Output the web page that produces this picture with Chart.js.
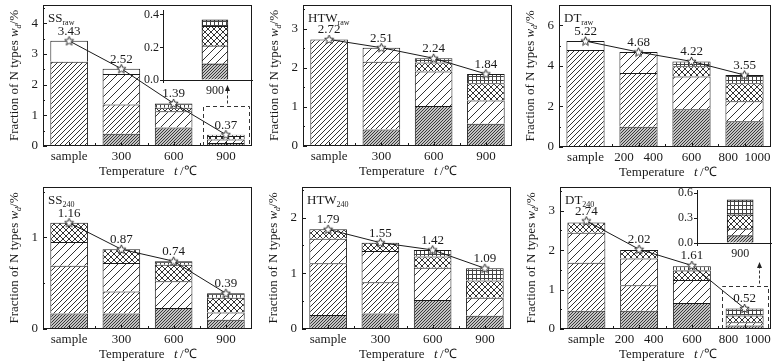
<!DOCTYPE html>
<html>
<head>
<meta charset="utf-8">
<script src="https://cdn.jsdelivr.net/npm/chart.js@4.4.1/dist/chart.umd.min.js"></script>
<style>
  body { margin: 0; background: #fff; }
  #wrap { position: relative; width: 781px; height: 364px; overflow: hidden; }
  #wrap canvas { position: absolute; }
</style>
</head>
<body>
<div id="wrap">
  <canvas id="ssRaw" width="260" height="182" style="left:0;top:0"></canvas>
  <canvas id="htwRaw" width="260" height="182" style="left:260px;top:0"></canvas>
  <canvas id="dtRaw" width="261" height="182" style="left:520px;top:0"></canvas>
  <canvas id="ss240" width="260" height="182" style="left:0;top:182px"></canvas>
  <canvas id="htw240" width="260" height="182" style="left:260px;top:182px"></canvas>
  <canvas id="dt240" width="261" height="182" style="left:520px;top:182px"></canvas>
  <canvas id="ssRawIn" width="126" height="95" style="left:130px;top:5px"></canvas>
  <canvas id="dt240In" width="111" height="76" style="left:662px;top:185px"></canvas>
</div>
<script>
const FONT = 'Liberation Serif';
const INK = '#1a1a1a';

const tempLabels = ['sample', '300', '600', '900'];
const tempLabelsDT = ['sample', '200   400', '600', '800  1000'];
const none = [0, 0, 0, 0];

// segment sizes, bottom -> top: dense, hatch, wide, blank, cross, grid
const ssRawTotal = [3.43, 2.52, 1.39, 0.37];
const ssRawDense = [0, 0.40, 0.60, 0.10];
const ssRawHatch = [2.75, 0.95, 0, 0];
const ssRawWide = [0, 1.00, 0.53, 0.11];
const ssRawBlank = [0.68, 0.17, 0, 0];
const ssRawCross = [0, 0, 0.12, 0.12];
const ssRawGrid = [0, 0, 0.14, 0.04];

const htwRawTotal = [2.72, 2.51, 2.24, 1.84];
const htwRawDense = [0, 0.42, 1.02, 0.57];
const htwRawHatch = [2.72, 1.73, 0, 0];
const htwRawWide = [0, 0.36, 0.88, 0.59];
const htwRawCross = [0, 0, 0.23, 0.44];
const htwRawGrid = [0, 0, 0.11, 0.24];

const dtRawTotal = [5.22, 4.68, 4.22, 3.55];
const dtRawDense = [0, 1.00, 1.86, 1.27];
const dtRawHatch = [4.78, 2.65, 0, 0];
const dtRawWide = [0, 1.03, 1.62, 0.99];
const dtRawBlank = [0.44, 0, 0, 0];
const dtRawCross = [0, 0, 0.50, 0.88];
const dtRawGrid = [0, 0, 0.24, 0.41];

const ss240Total = [1.16, 0.87, 0.74, 0.39];
const ss240Dense = [0.17, 0.17, 0.23, 0.10];
const ss240Hatch = [0.52, 0.24, 0, 0];
const ss240Wide = [0.26, 0.31, 0.29, 0.08];
const ss240Cross = [0.21, 0.15, 0.18, 0.16];
const ss240Grid = [0, 0, 0.04, 0.05];

const htw240Total = [1.79, 1.55, 1.42, 1.09];
const htw240Dense = [0.25, 0.28, 0.52, 0.24];
const htw240Hatch = [0.93, 0.56, 0, 0];
const htw240Wide = [0.44, 0.56, 0.58, 0.32];
const htw240Cross = [0.17, 0.15, 0.20, 0.31];
const htw240Grid = [0, 0, 0.12, 0.22];

const dt240Total = [2.74, 2.02, 1.61, 0.52];
const dt240Dense = [0.46, 0.46, 0.66, 0.09];
const dt240Hatch = [1.22, 0.65, 0, 0];
const dt240Wide = [0.76, 0.68, 0.58, 0.08];
const dt240Cross = [0.26, 0.21, 0.24, 0.17];
const dt240Grid = [0, 0, 0.11, 0.18];

// hatch fills
function tile(size, draw) {
  const c = document.createElement('canvas');
  c.width = c.height = size;
  const g = c.getContext('2d');
  draw(g, size);
  return g.createPattern(c, 'repeat');
}
function diag(g, s) {
  g.moveTo(0, s); g.lineTo(s, 0);
  g.moveTo(-1, 1); g.lineTo(1, -1);
  g.moveTo(s - 1, s + 1); g.lineTo(s + 1, s - 1);
}
function diag2(g, s) {
  g.moveTo(0, 0); g.lineTo(s, s);
  g.moveTo(-1, s - 1); g.lineTo(1, s + 1);
  g.moveTo(s - 1, -1); g.lineTo(s + 1, 1);
}
const fills = [
  tile(3, (g, s) => { g.fillStyle = '#c4c4c4'; g.fillRect(0, 0, s, s); g.strokeStyle = '#3a3a3a'; g.lineWidth = 1; g.beginPath(); diag(g, s); g.stroke(); }),
  tile(5, (g, s) => { g.fillStyle = '#fff'; g.fillRect(0, 0, s, s); g.strokeStyle = '#333'; g.lineWidth = 1; g.beginPath(); diag(g, s); g.stroke(); }),
  tile(8, (g, s) => { g.fillStyle = '#fff'; g.fillRect(0, 0, s, s); g.strokeStyle = '#333'; g.lineWidth = 1; g.beginPath(); diag(g, s); g.stroke(); }),
  '#ffffff',
  tile(6, (g, s) => { g.fillStyle = '#fff'; g.fillRect(0, 0, s, s); g.strokeStyle = '#333'; g.lineWidth = 1; g.beginPath(); diag(g, s); diag2(g, s); g.stroke(); }),
  tile(4, (g, s) => { g.fillStyle = '#fff'; g.fillRect(0, 0, s, s); g.strokeStyle = '#444'; g.lineWidth = 1; g.beginPath(); g.moveTo(0, 0.5); g.lineTo(s, 0.5); g.moveTo(0.5, 0); g.lineTo(0.5, s); g.stroke(); }),
];
const layerNames = ['dense', 'hatch', 'wide', 'blank', 'cross', 'grid'];

function starImg() {
  const c = document.createElement('canvas');
  c.width = c.height = 11;
  const g = c.getContext('2d');
  g.beginPath();
  for (let i = 0; i < 10; i++) {
    const r = i % 2 ? 2.1 : 4.8;
    const t = -Math.PI / 2 + i * Math.PI / 5;
    g.lineTo(5.5 + r * Math.cos(t), 5.8 + r * Math.sin(t));
  }
  g.closePath();
  g.fillStyle = '#fff'; g.fill();
  g.strokeStyle = '#222'; g.lineWidth = 0.9; g.stroke();
  return c;
}
const star = starImg();

function deco(p) {
  return {
    id: 'deco',
    afterDraw(chart) {
      const { ctx, chartArea: a, scales: { x, y } } = chart;
      ctx.save();
      ctx.strokeStyle = INK;
      ctx.fillStyle = INK;
      ctx.lineWidth = 1;
      ctx.strokeRect(a.left + 0.5, a.top + 0.5, a.right - a.left - 1, a.bottom - a.top - 1);

      // inward ticks
      ctx.beginPath();
      const st = p.step;
      for (let v = 0; v <= p.yMax + 1e-9; v += st / 2) {
        const py = Math.round(y.getPixelForValue(v)) + 0.5;
        const major = Math.abs(v / st - Math.round(v / st)) < 1e-6;
        ctx.moveTo(a.left, py); ctx.lineTo(a.left + (major ? 4 : 2), py);
      }
      const n = p.labels.length;
      for (let i = 0; i < n; i++) {
        const px = Math.round(x.getPixelForValue(i)) + 0.5;
        ctx.moveTo(px, a.bottom); ctx.lineTo(px, a.bottom - 4);
        if (i > 0) {
          const mx = Math.round((x.getPixelForValue(i - 1) + x.getPixelForValue(i)) / 2) + 0.5;
          ctx.moveTo(mx, a.bottom); ctx.lineTo(mx, a.bottom - 3);
        }
      }
      ctx.stroke();

      // value labels over the stars
      const meta = chart.getDatasetMeta(chart.data.datasets.length - 1);
      ctx.font = `13px ${FONT}`;
      ctx.textAlign = 'center';
      ctx.textBaseline = 'alphabetic';
      meta.data.forEach((pt, i) => ctx.fillText(p.total[i].toFixed(2), pt.x, pt.y - 6));

      // panel name
      ctx.textAlign = 'left';
      ctx.font = `13px ${FONT}`;
      ctx.fillText(p.name, a.left + 5, a.top + 17);
      const nw = ctx.measureText(p.name).width;
      ctx.font = `8px ${FONT}`;
      ctx.fillText(p.sub, a.left + 5 + nw, a.top + 20);

      // x title
      const by = a.bottom + 29;
      ctx.font = `13px ${FONT}`;
      ctx.fillText('Temperature', 99, by);
      ctx.font = `italic 13px ${FONT}`;
      ctx.fillText('t', 174, by);
      ctx.font = `13px ${FONT}`;
      ctx.fillText('/\u2103', 180, by);

      // y title
      ctx.save();
      ctx.translate(p.yW - 25, (a.top + a.bottom) / 2);
      ctx.rotate(-Math.PI / 2);
      const parts = [
        ['Fraction of N types ', `13px ${FONT}`, 0],
        ['w', `italic 13px ${FONT}`, 0],
        ['d', `italic 8px ${FONT}`, 3],
        ['/%', `13px ${FONT}`, 0],
      ];
      let tw = 0;
      parts.forEach(q => { ctx.font = q[1]; tw += ctx.measureText(q[0]).width; });
      let cx = -tw / 2;
      parts.forEach(q => { ctx.font = q[1]; ctx.fillText(q[0], cx, q[2]); cx += ctx.measureText(q[0]).width; });
      ctx.restore();

      // zoom box + arrow to the inset
      if (p.zoom) {
        const bar = chart.getDatasetMeta(0).data[3];
        const left = Math.round(bar.x - 23) + 0.5;
        const right = Math.round(bar.x + 23) + 0.5;
        const top = Math.round(y.getPixelForValue(p.zoom.top)) + 0.5;
        ctx.strokeStyle = '#333';
        ctx.setLineDash([4, 3]);
        ctx.beginPath();
        ctx.moveTo(left, a.bottom); ctx.lineTo(left, top); ctx.lineTo(right, top); ctx.lineTo(right, a.bottom);
        ctx.stroke();
        const ax = Math.round(bar.x + p.zoom.dx) + 0.5;
        ctx.setLineDash([3, 2]);
        ctx.beginPath();
        ctx.moveTo(ax, top - 3); ctx.lineTo(ax, p.zoom.tip + 5);
        ctx.stroke();
        ctx.setLineDash([]);
        ctx.fillStyle = '#222';
        ctx.beginPath();
        ctx.moveTo(ax, p.zoom.tip); ctx.lineTo(ax - 2.5, p.zoom.tip + 6); ctx.lineTo(ax + 2.5, p.zoom.tip + 6);
        ctx.closePath(); ctx.fill();
      }
      ctx.restore();
    },
  };
}

function makePanel(p) {
  const bars = p.layers.map((vals, i) => ({
    type: 'bar',
    label: layerNames[i],
    data: vals,
    backgroundColor: fills[i],
    borderColor: INK,
    borderWidth: { top: 1, left: 1, right: 1, bottom: 0 },
    borderSkipped: false,
    barPercentage: 0.72,
    categoryPercentage: 1,
    stack: 'n',
    order: 1,
  }));
  const line = {
    type: 'line',
    label: 'total',
    data: p.total,
    borderColor: INK,
    borderWidth: 1,
    pointStyle: star,
    tension: 0,
    stack: 't',
    order: 0,
  };
  return new Chart(document.getElementById(p.id), {
    type: 'bar',
    data: { labels: p.labels, datasets: [...bars, line] },
    options: {
      responsive: false,
      animation: false,
      devicePixelRatio: 1,
      events: [],
      layout: { padding: { top: 1, right: p.padR, left: 0, bottom: 0 } },
      plugins: { legend: { display: false }, tooltip: { enabled: false } },
      scales: {
        x: {
          stacked: true,
          grid: { display: false, drawTicks: false },
          border: { display: false },
          ticks: { color: INK, font: { family: FONT, size: 13 }, padding: 3, maxRotation: 0, autoSkip: false },
          afterFit: (s) => { s.height = p.xH; s.paddingLeft = 0; s.paddingRight = 0; },
        },
        y: {
          stacked: true,
          min: 0,
          max: p.yMax,
          grid: { display: false, drawTicks: false },
          border: { display: false },
          ticks: { stepSize: p.step, includeBounds: false, color: INK, font: { family: FONT, size: 13 }, padding: 5 },
          afterFit: (s) => { s.width = p.yW; s.paddingTop = 0; s.paddingBottom = 0; },
        },
      },
    },
    plugins: [deco(p)],
  });
}

function makeInset(p) {
  const t = Number(tempLabels[3]);
  const bars = p.layers.map((vals, i) => ({
    label: layerNames[i],
    data: [{ x: t, y: vals[3] }],
    backgroundColor: fills[i],
    borderColor: INK,
    borderWidth: { top: 1, left: 1, right: 1, bottom: 0 },
    borderSkipped: false,
    barThickness: 26,
    stack: 'n',
  }));
  return new Chart(document.getElementById(p.id), {
    type: 'bar',
    data: { datasets: bars },
    options: {
      responsive: false,
      animation: false,
      devicePixelRatio: 1,
      events: [],
      layout: { padding: { top: 5, right: p.padR, left: 0, bottom: 0 } },
      plugins: { legend: { display: false }, tooltip: { enabled: false } },
      scales: {
        x: {
          type: 'linear',
          stacked: true,
          offset: false,
          min: 760,
          max: 1000,
          grid: { drawOnChartArea: false, tickLength: 3, color: INK },
          border: { color: INK },
          ticks: { color: INK, font: { family: FONT, size: 12 }, padding: 1, maxRotation: 0 },
          afterBuildTicks: (s) => { s.ticks = [{ value: t }]; },
          afterFit: (s) => { s.height = p.xH; s.paddingLeft = 0; s.paddingRight = 0; },
        },
        y: {
          stacked: true,
          min: 0,
          max: p.yMax,
          grid: { drawOnChartArea: false, tickLength: 3, color: INK },
          border: { color: INK },
          ticks: { stepSize: p.step, includeBounds: false, color: INK, font: { family: FONT, size: 12 }, padding: 1, callback: (v) => v.toFixed(1) },
          afterFit: (s) => { s.width = p.yW; s.paddingTop = 0; s.paddingBottom = 0; },
        },
      },
    },
  });
}

makePanel({ id: 'ssRaw', name: 'SS', sub: 'raw', labels: tempLabels, total: ssRawTotal,
  layers: [ssRawDense, ssRawHatch, ssRawWide, ssRawBlank, ssRawCross, ssRawGrid],
  yMax: 4.6, step: 1, yW: 43, padR: 8, xH: 36, zoom: { top: 1.31, dx: 1, tip: 85 } });
makePanel({ id: 'htwRaw', name: 'HTW', sub: 'raw', labels: tempLabels, total: htwRawTotal,
  layers: [htwRawDense, htwRawHatch, htwRawWide, none, htwRawCross, htwRawGrid],
  yMax: 3.6, step: 1, yW: 43, padR: 8, xH: 36 });
makePanel({ id: 'dtRaw', name: 'DT', sub: 'raw', labels: tempLabelsDT, total: dtRawTotal,
  layers: [dtRawDense, dtRawHatch, dtRawWide, dtRawBlank, dtRawCross, dtRawGrid],
  yMax: 7, step: 2, yW: 39, padR: 10, xH: 35 });
makePanel({ id: 'ss240', name: 'SS', sub: '240', labels: tempLabels, total: ss240Total,
  layers: [ss240Dense, ss240Hatch, ss240Wide, none, ss240Cross, ss240Grid],
  yMax: 1.55, step: 1, yW: 43, padR: 8, xH: 35 });
makePanel({ id: 'htw240', name: 'HTW', sub: '240', labels: tempLabels, total: htw240Total,
  layers: [htw240Dense, htw240Hatch, htw240Wide, none, htw240Cross, htw240Grid],
  yMax: 2.55, step: 1, yW: 42, padR: 9, xH: 35 });
makePanel({ id: 'dt240', name: 'DT', sub: '240', labels: tempLabelsDT, total: dt240Total,
  layers: [dt240Dense, dt240Hatch, dt240Wide, none, dt240Cross, dt240Grid],
  yMax: 3.6, step: 1, yW: 40, padR: 10, xH: 35, zoom: { top: 1.08, dx: 14, tip: 80 } });

makeInset({ id: 'ssRawIn', layers: [ssRawDense, ssRawHatch, ssRawWide, ssRawBlank, ssRawCross, ssRawGrid],
  yMax: 0.43, step: 0.2, yW: 33, padR: 4, xH: 20 });
makeInset({ id: 'dt240In', layers: [dt240Dense, dt240Hatch, dt240Wide, none, dt240Cross, dt240Grid],
  yMax: 0.64, step: 0.3, yW: 35, padR: 2, xH: 18 });
</script>
</body>
</html>
